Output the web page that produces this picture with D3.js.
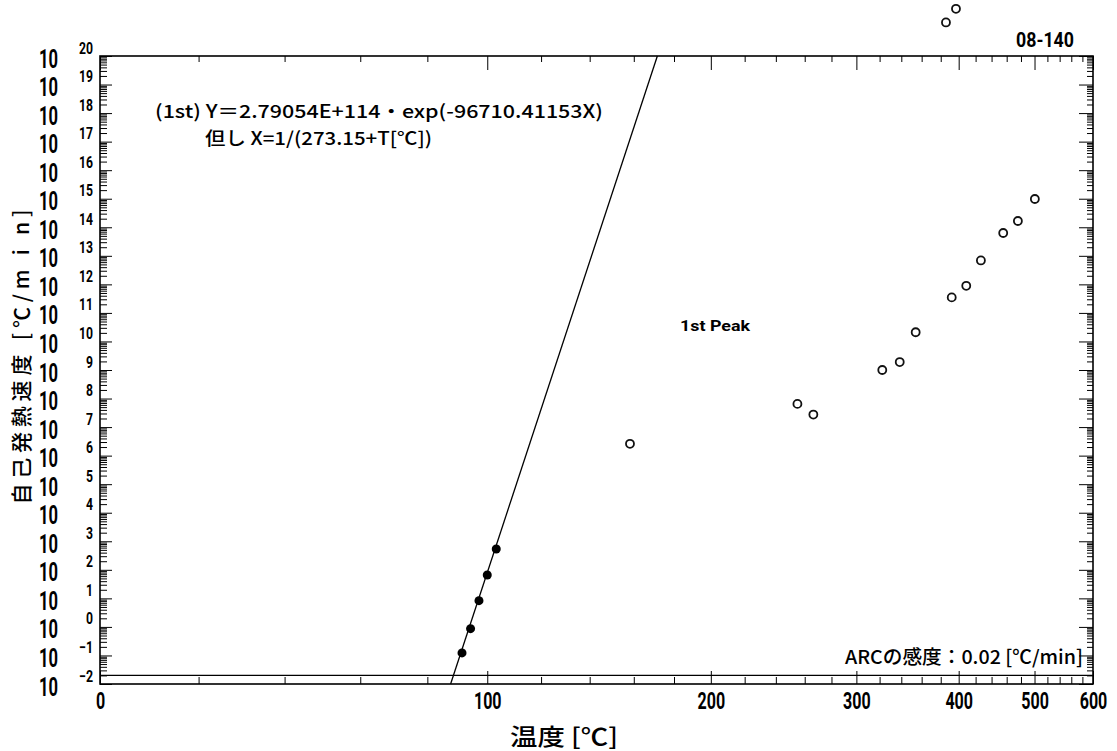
<!DOCTYPE html>
<html><head><meta charset="utf-8">
<script src="https://cdn.jsdelivr.net/npm/d3@7"></script>
<style>
html,body{margin:0;padding:0;background:#fff;}
svg{display:block;}
.num{font-family:Roboto,"Liberation Sans",sans-serif;}
.jp{font-family:"Noto Sans CJK JP",Roboto,sans-serif;}
</style></head>
<body>
<script>
// ---- data ----
const xMajorTicks = [0, 100, 200, 300, 400, 500, 600];
const xMinorTicks = [20,40,60,80,120,140,160,180,220,240,260,280,320,340,360,380,420,440,460,480,520,540,560,580];
const yExponents = [-2,-1,0,1,2,3,4,5,6,7,8,9,10,11,12,13,14,15,16,17,18,19,20];

// 1st peak (filled) : temperature [°C], self-heating rate [°C/min]
const peak1Temp = [91.3, 94.2, 97.1, 100.0, 103.2];
const peak1Rate = [0.123, 0.87, 8.3, 66, 537];

// later points (open circles)
const otherTemp = [158.2, 254.8, 266.3, 322.4, 338.5, 354.0, 385.7, 392.1, 396.9, 408.8, 426.5, 455.3, 475.6, 500.5];
const otherRate = [2.6e6, 6.5e7, 2.75e7, 1.0e9, 1.9e9, 2.1e10, 1.5e21, 3.5e11, 4.5e21, 8.9e11, 6.9e12, 6.3e13, 1.66e14, 9.8e14];

// fitted line end points (where it leaves the frame)
const fitTemp = [87.5, 171.5];
const fitRate = [1e-2, 1e20];

const arcSensitivity = 0.02;

// ---- layout ----
const W = 1117, H = 751;
const L = 100, R = 1093, T = 56, B = 684;

const svg = d3.select("body").append("svg").attr("width", W).attr("height", H);

const inv = t => 1 / (t + 273.15);
const xInv = d3.scaleLinear().domain([inv(0), inv(600)]).range([L, R]);
const x = t => xInv(inv(t));
const y = d3.scaleLog().domain([1e-2, 1e20]).range([B, T]);

// minor y tick values
const yMinor = [];
for (const e of yExponents) {
  if (e === 20) continue;
  for (let m = 2; m <= 9; m++) yMinor.push(m * Math.pow(10, e));
}
const yMajorVals = yExponents.map(e => Math.pow(10, e));

function styleAxis(g) {
  g.select(".domain").remove();
  g.selectAll("line").attr("stroke", "#000").attr("stroke-width", 1);
}

// bottom axis
svg.append("g").attr("transform", `translate(0,${B})`)
  .call(d3.axisBottom(xInv).tickValues(xMinorTicks.map(inv)).tickSize(-7).tickFormat(""))
  .call(styleAxis);
const xb = svg.append("g").attr("transform", `translate(0,${B})`)
  .call(d3.axisBottom(xInv).tickValues(xMajorTicks.map(inv)).tickSize(-13).tickPadding(20)
    .tickFormat(v => Math.round(1 / v - 273.15)))
  .call(styleAxis);
xb.selectAll("text").attr("class", "num").attr("font-size", 23).attr("font-weight", "bold")
  .attr("fill", "#000")
  .attr("dy", 0).attr("y", 25)
  .attr("textLength", function() { return 9.2 * this.textContent.length; })
  .attr("lengthAdjust", "spacingAndGlyphs");

// top axis
svg.append("g").attr("transform", `translate(0,${T})`)
  .call(d3.axisTop(xInv).tickValues(xMinorTicks.map(inv)).tickSize(-6).tickFormat(""))
  .call(styleAxis);
svg.append("g").attr("transform", `translate(0,${T})`)
  .call(d3.axisTop(xInv).tickValues(xMajorTicks.map(inv)).tickSize(-14).tickFormat(""))
  .call(styleAxis);

// left axis
svg.append("g").attr("transform", `translate(${L},0)`)
  .call(d3.axisLeft(y).tickValues(yMinor).tickSize(-7).tickFormat(""))
  .call(styleAxis);
const yl = svg.append("g").attr("transform", `translate(${L},0)`)
  .call(d3.axisLeft(y).tickValues(yMajorVals).tickSize(-12).tickFormat(""))
  .call(styleAxis);
yl.selectAll(".tick").each(function(d) {
  const e = Math.round(Math.log10(d));
  const g = d3.select(this);
  g.append("text").attr("class", "num").attr("x", -42).attr("y", 11)
    .attr("font-size", 25).attr("font-weight", "bold").attr("fill", "#000")
    .attr("textLength", 19).attr("lengthAdjust", "spacingAndGlyphs").text("10");
  const s = e < 0 ? "\u2212" + (-e) : String(e);
  g.append("text").attr("class", "num").attr("x", -7).attr("y", -3)
    .attr("text-anchor", "end").attr("font-size", 16).attr("font-weight", "bold").attr("fill", "#000")
    .attr("textLength", 7 * s.length).attr("lengthAdjust", "spacingAndGlyphs")
    .text(s);
});

// right axis
svg.append("g").attr("transform", `translate(${R},0)`)
  .call(d3.axisRight(y).tickValues(yMinor).tickSize(-6).tickFormat(""))
  .call(styleAxis);
svg.append("g").attr("transform", `translate(${R},0)`)
  .call(d3.axisRight(y).tickValues(yMajorVals).tickSize(-14).tickFormat(""))
  .call(styleAxis);

// frame
svg.append("rect").attr("x", L).attr("y", T).attr("width", R - L).attr("height", B - T)
  .attr("fill", "none").attr("stroke", "#000").attr("stroke-width", 1.6);

// ARC sensitivity line
svg.append("line").attr("x1", L).attr("x2", R)
  .attr("y1", y(arcSensitivity)).attr("y2", y(arcSensitivity))
  .attr("stroke", "#000").attr("stroke-width", 1.2);

// fitted line
const fitPts = fitTemp.map((t, i) => [x(t), y(fitRate[i])]);
svg.append("path").attr("d", d3.line()(fitPts)).attr("fill", "none")
  .attr("stroke", "#000").attr("stroke-width", 1.3);

// points
svg.append("g").selectAll("circle").data(peak1Temp).join("circle")
  .attr("cx", d => x(d)).attr("cy", (d, i) => y(peak1Rate[i])).attr("r", 4.5)
  .attr("fill", "#000");
svg.append("g").selectAll("circle").data(otherTemp).join("circle")
  .attr("cx", d => x(d)).attr("cy", (d, i) => y(otherRate[i])).attr("r", 4)
  .attr("fill", "none").attr("stroke", "#111").attr("stroke-width", 1.8);

// texts
svg.append("text").attr("class", "num").attr("x", 1016).attr("y", 47)
  .attr("font-size", 20).attr("font-weight", "bold").attr("fill", "#000")
  .attr("textLength", 58).attr("lengthAdjust", "spacingAndGlyphs").text("08-140");

svg.append("text").attr("class", "jp").attr("x", 155).attr("y", 118)
  .attr("font-size", 18).attr("font-weight", 500).attr("textLength", 448).attr("lengthAdjust", "spacingAndGlyphs")
  .attr("fill", "#000").text("(1st) Y＝2.79054E+114・exp(-96710.41153X)");
svg.append("text").attr("class", "jp").attr("x", 205).attr("y", 145)
  .attr("font-size", 18).attr("font-weight", 500).attr("textLength", 227).attr("lengthAdjust", "spacingAndGlyphs")
  .attr("fill", "#000").text("但し X=1/(273.15+T[℃])");

svg.append("text").attr("class", "num").attr("x", 680).attr("y", 331)
  .attr("font-size", 15).attr("font-weight", "bold").attr("fill", "#000")
  .attr("textLength", 70).attr("lengthAdjust", "spacingAndGlyphs").text("1st Peak");

svg.append("text").attr("class", "jp").attr("x", 845).attr("y", 664)
  .attr("font-size", 19).attr("font-weight", 500).attr("textLength", 238).attr("lengthAdjust", "spacingAndGlyphs")
  .attr("fill", "#000").text("ARCの感度：0.02 [℃/min]");

svg.append("text").attr("class", "jp").attr("x", 510).attr("y", 745)
  .attr("font-size", 23).attr("font-weight", 500).attr("fill", "#000")
  .attr("textLength", 108).attr("lengthAdjust", "spacingAndGlyphs").text("温度 [℃]");

svg.append("text").attr("class", "jp")
  .attr("transform", "translate(29,357) rotate(-90)")
  .attr("text-anchor", "middle").attr("font-size", 21).attr("font-weight", 500)
  .attr("textLength", 295).attr("lengthAdjust", "spacing")
  .attr("fill", "#000").text("自己発熱速度 [℃/m i n]");
</script>
</body></html>
